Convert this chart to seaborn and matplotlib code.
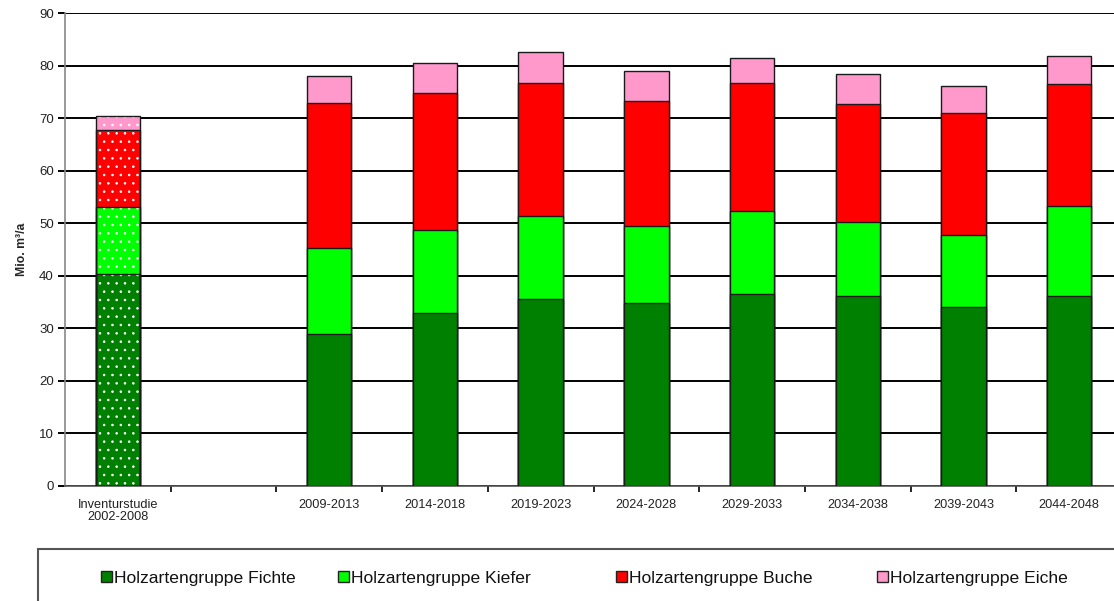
import numpy as np
import pandas as pd
import matplotlib
matplotlib.use("Agg")
import matplotlib.pyplot as plt
from matplotlib.patches import Patch, Rectangle
import seaborn as sns

# Slots on the x axis (one slot left empty after the inventory study)
slots = ["Inventurstudie\n2002-2008", " ", "2009-2013", "2014-2018", "2019-2023",
         "2024-2028", "2029-2033", "2034-2038", "2039-2043", "2044-2048"]
periods = ["Inventurstudie\n2002-2008", "2009-2013", "2014-2018", "2019-2023",
           "2024-2028", "2029-2033", "2034-2038", "2039-2043", "2044-2048"]

# Mio. m³/a per tree-species group
fichte = [40.3, 28.9, 33.0, 35.5, 34.9, 36.5, 36.2, 34.1, 36.2]
kiefer = [12.8, 16.4, 15.7, 15.8, 14.6, 15.9, 14.1, 13.7, 17.0]
buche = [14.6, 27.5, 26.1, 25.4, 23.8, 24.3, 22.3, 23.2, 23.3]
eiche = [2.7, 5.3, 5.7, 5.9, 5.7, 4.8, 5.7, 5.2, 5.4]

groups = ["Holzartengruppe Fichte", "Holzartengruppe Kiefer",
          "Holzartengruppe Buche", "Holzartengruppe Eiche"]
colors = ["#008000", "#00FF00", "#FF0000", "#FF99CC"]
yticks = list(range(0, 91, 10))

df = pd.DataFrame({"period": periods, "Fichte": fichte, "Kiefer": kiefer,
                   "Buche": buche, "Eiche": eiche})
layers = ["Fichte", "Kiefer", "Buche", "Eiche"]
cum = df[layers].cumsum(axis=1)
cum["period"] = df["period"]

sns.set_theme(style="white")
plt.rcParams["font.family"] = ["Liberation Sans", "DejaVu Sans"]
plt.rcParams["hatch.linewidth"] = 0.6

fig = plt.figure(figsize=(11.14, 6.01), dpi=100)
W, H = 1114, 601
ax = fig.add_axes([65 / W, 1 - 486 / H, (1122 - 65) / W, (486 - 13) / H])

edge = "#1a1a1a"
# Stacked bars: draw cumulative totals from the top layer down
for layer, col in zip(reversed(layers), reversed(colors)):
    n_before = len(ax.patches)
    sns.barplot(data=cum, x="period", y=layer, order=slots, color=col,
                saturation=1, width=0.42, edgecolor=edge, linewidth=1.0,
                ax=ax, zorder=3)
    new = [p for p in ax.patches[n_before:] if p.get_height() > 0]
    # Dotted fill for the inventory study bar
    first = min(new, key=lambda p: p.get_x())
    first.set_hatch("..")
    first.set_edgecolor("white")
    first.set_linewidth(0)
    ax.add_patch(Rectangle(first.get_xy(), first.get_width(), first.get_height(),
                           fill=False, edgecolor=edge, linewidth=1.0, zorder=3.1))

ax.set_xlim(-0.5, len(slots) - 0.5)
ax.set_ylim(0, 90)
ax.set_yticks(yticks)
ax.set_yticklabels([str(v) for v in yticks], fontsize=9.5, color="#222222")
ax.yaxis.grid(True, color="black", linewidth=1.4, zorder=0)
ax.set_axisbelow(True)

ax.set_xticks(np.arange(0.5, len(slots) - 0.5, 1))
ax.set_xticklabels([])
ax.set_xticks(np.arange(len(slots)), minor=True)
ax.set_xticklabels(slots, minor=True, fontsize=9.2, color="#222222", linespacing=1.0)
ax.tick_params(axis="x", which="major", direction="out", length=4, width=1.2,
               color="black", bottom=True)
ax.tick_params(axis="x", which="minor", length=0, pad=9, bottom=True)
ax.tick_params(axis="y", direction="out", length=5, width=1.4, color="black",
               left=True, pad=3)

for s in ["top", "right"]:
    ax.spines[s].set_visible(False)
ax.spines["left"].set_color("#888888")
ax.spines["left"].set_linewidth(1.2)
ax.spines["bottom"].set_color("#555555")
ax.spines["bottom"].set_linewidth(1.2)

ax.set_xlabel("")
ax.set_ylabel("Mio. m³/a", fontsize=8.8, fontweight="bold", labelpad=8)

# Legend frame along the bottom
fig.patches.append(Rectangle((38 / W, -0.1), 1.2, (601 - 549) / H + 0.1,
                             transform=fig.transFigure, facecolor="white",
                             edgecolor="#555555", linewidth=1.5, zorder=0))

handle_x = [101, 338, 616, 877]
for name, col, hx in zip(groups, colors, handle_x):
    h = Patch(facecolor=col, edgecolor="#222222", linewidth=1.0)
    leg = fig.legend(handles=[h], labels=[name], loc="center left",
                     bbox_to_anchor=(hx / W, 1 - 578 / H), frameon=False,
                     fontsize=12.6, handlelength=0.6, handleheight=0.6,
                     handletextpad=0.15, borderpad=0, borderaxespad=0)
    for t in leg.get_texts():
        t.set_color("#111111")

fig.savefig("out.png", dpi=100)
